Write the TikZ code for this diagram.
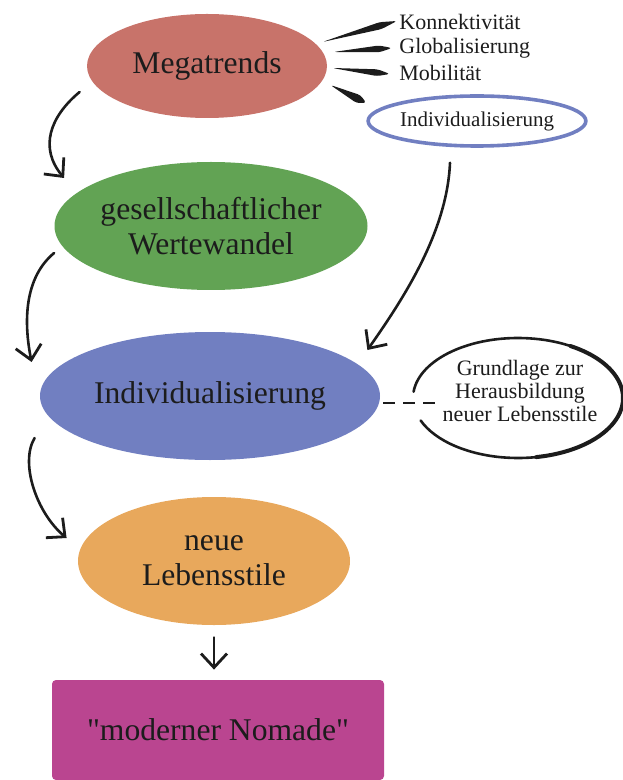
\documentclass[tikz,border=0pt]{standalone}
\usepackage{fontspec}
\setmainfont{Liberation Serif}
\usetikzlibrary{calc,arrows.meta,shapes.geometric}
\definecolor{ink}{HTML}{1C1C1C}
\definecolor{trend}{HTML}{C8736A}
\definecolor{werte}{HTML}{62A354}
\definecolor{indiv}{HTML}{717FC1}
\definecolor{stil}{HTML}{E8A85C}
\definecolor{nomad}{HTML}{BA4590}
\tikzset{
  blob/.style={ellipse, inner sep=0pt, text=ink, align=center, font=\fontsize{15.8}{17.5}\selectfont},
  lab/.style={text=ink, inner sep=0pt, anchor=west, font=\fontsize{11}{12}\selectfont},
  flow/.style={draw=ink, line width=1.3pt, line cap=round, -{Straight Barb[length=7pt,width=13pt,line width=1.4pt]}},
  dashline/.style={draw=ink, line width=1.2pt, dash pattern=on 6pt off 4pt},
  ring/.style={draw=ink, line width=1.3pt, line cap=round},
}
\begin{document}
\begin{tikzpicture}[x=0.5pt,y=-0.5pt]
  \useasboundingbox (0,0) rectangle (622,780);
  % main chain
  \node[blob, fill=trend, minimum width=120pt, minimum height=52pt] (mega) at (207,66) {Megatrends};
  \node[blob, fill=werte, minimum width=156.5pt, minimum height=64pt] (werte) at (211,226) {gesellschaftlicher\\Wertewandel};
  \node[blob, fill=indiv, minimum width=170pt, minimum height=64pt] (indiv) at (210,396) {Individualisierung};
  \node[blob, fill=stil, minimum width=136pt, minimum height=64pt] (stil) at (214,561) {neue\\Lebensstile};
  \node[rectangle, rounded corners=2pt, fill=nomad, text=ink, minimum width=166pt, minimum height=50pt,
        font=\fontsize{15.8}{17.5}\selectfont] (nomad) at (218,730) {\textquotedbl moderner Nomade\textquotedbl};
  % trends
  \node[lab] (konn) at (399,22) {Konnektivität};
  \node[lab] (glob) at (399,48) {Globalisierung};
  \node[lab] (mob) at (399,73) {Mobilität};
  \node[ellipse, draw=indiv, line width=1.8pt, inner sep=0pt, minimum width=103pt, minimum height=25pt,
        text=ink, font=\fontsize{10.5}{12}\selectfont] (iring) at (477,121) {Individualisierung};
  % callout
  \node[ellipse, inner sep=0pt, minimum width=105pt, minimum height=60pt, align=center, text=ink,
        font=\fontsize{11}{11.5}\selectfont] (call) at (520,391) {Grundlage zur\\Herausbildung\\neuer Lebensstile};
  \coordinate (cc) at ($(call.center)+(-2,7)$);
  \draw[ring] ($(cc)+(186:105 and 60)$) arc[start angle=186, end angle=518, x radius=105, y radius=60];
  \draw[ring, line width=2pt] ($(cc)+(300:105 and 60)$) arc[start angle=300, end angle=440, x radius=105, y radius=60];
  % feathers
  \coordinate (f1s) at ($(mega.east)+(-5,-24)$);
  \coordinate (f1e) at ($(konn.west)+(-2,-1)$);
  \coordinate (f2s) at ($(mega.east)+(6,-14)$);
  \coordinate (f2e) at ($(glob.west)+(-7,0)$);
  \coordinate (f3s) at ($(mega.east)+(5,2)$);
  \coordinate (f3e) at ($(mob.west)+(-9,1)$);
  \coordinate (f4s) at ($(mega.east)+(3,19)$);
  \coordinate (f4e) at ($(iring.west)+(0,-18)$);
  \foreach \i/\w in {1/1.8pt,2/1.7pt,3/1.7pt,4/2.2pt}
    \fill[ink, rounded corners=1.5pt] (f\i s) -- ($(f\i s)!0.78!(f\i e)!\w!90:(f\i e)$) -- (f\i e)
      -- ($(f\i s)!0.78!(f\i e)!\w!-90:(f\i e)$) -- cycle;
  % arrows
  \draw[flow] ($(mega.west)+(-7,26)$) .. controls +(-30,25) and +(-25,-30) .. ($(werte.west)+(10,-48)$);
  \draw[flow] ($(werte.west)+(0,27)$) .. controls +(-30,25) and +(-8,-40) .. ($(indiv.west)+(-8,-34)$);
  \draw[flow] ($(indiv.west)+(-5,42)$) .. controls +(-15,25) and +(-30,-25) .. ($(stil.west)+(-11,-23)$);
  \draw[flow] ($(iring.south)+(-27,15)$) .. controls +(-3,70) and +(35,-50) .. ($(indiv.east)+(-13,-46)$);
  \draw[flow, shorten <=6pt, shorten >=5pt] (stil.south) -- (stil.south |- nomad.north);
  \draw[dashline] ($(indiv.east)+(3,7)$) -- ($(call.west)+(25,12)$);
\end{tikzpicture}
\end{document}
